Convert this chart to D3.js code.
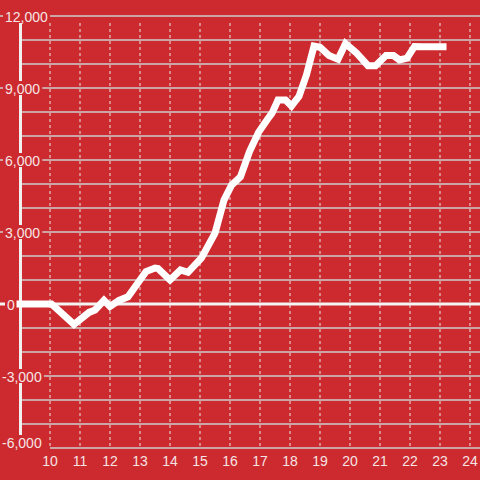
<!DOCTYPE html>
<html><head><meta charset="utf-8">
<script src="https://cdn.jsdelivr.net/npm/d3@7"></script>
<style>
html,body{margin:0;padding:0;background:#cc2a2f;}
svg{display:block;font-family:"Liberation Sans",Arial,sans-serif;}
</style></head>
<body>
<svg id="c" width="480" height="480"></svg>
<script>
// Data (time in decimal hours, value)
const times = [9.0, 10.05, 10.8, 11.3, 11.5, 11.8, 12.0, 12.3, 12.6, 13.0, 13.2, 13.5, 13.6, 14.0, 14.35, 14.6, 15.05, 15.5, 15.8, 16.05, 16.35, 16.65, 16.95, 17.25, 17.4, 17.6, 17.85, 18.05, 18.3, 18.55, 18.8, 19.0, 19.3, 19.6, 19.85, 20.2, 20.6, 20.85, 21.2, 21.45, 21.65, 21.9, 22.15, 22.4, 23.1];
const values = [0, 0, -850, -350, -250, 150, -100, 150, 300, 1000, 1350, 1500, 1480, 1000, 1420, 1320, 1920, 2950, 4330, 4950, 5300, 6350, 7150, 7700, 7950, 8500, 8500, 8250, 8650, 9550, 10750, 10700, 10350, 10200, 10850, 10480, 9930, 9930, 10350, 10350, 10170, 10240, 10730, 10720, 10720];
const xTicks = [10, 11, 12, 13, 14, 15, 16, 17, 18, 19, 20, 21, 22, 23, 24];
const yGrid = [-6000, -5000, -4000, -3000, -2000, -1000, 0, 1000, 2000, 3000, 4000, 5000, 6000, 7000, 8000, 9000, 10000, 11000, 12000];
const yLabels = [-6000, -3000, 0, 3000, 6000, 9000, 12000];

const bg = "#cc2a2f";
const svg = d3.select("#c");
const x = d3.scaleLinear().domain([10, 24]).range([50, 470]);
const y = d3.scaleLinear().domain([-6000, 12000]).range([448, 16]);
const fmt = d3.format(",");

// horizontal grid
svg.append("g").selectAll("line").data(yGrid.filter(v => v !== 0)).join("line")
  .attr("x1", d => d === -6000 ? 50 : (yLabels.includes(d) ? 0 : 22))
  .attr("x2", 480)
  .attr("y1", d => y(d)).attr("y2", d => y(d))
  .attr("stroke", "#cfcfcf").attr("stroke-width", 1.5);

// vertical dashed grid
svg.append("g").selectAll("line").data(xTicks).join("line")
  .attr("x1", d => x(d)).attr("x2", d => x(d))
  .attr("y1", y(12000) + 7).attr("y2", y(-6000))
  .attr("stroke", "#e8e8e8").attr("stroke-width", 1).attr("stroke-dasharray", "3,3");

// vertical axis line
svg.append("line").attr("x1", 20.5).attr("x2", 20.5)
  .attr("y1", y(12000)).attr("y2", y(-6000))
  .attr("stroke", "#f0f0f0").attr("stroke-width", 3);

// zero line
svg.append("line").attr("x1", 0).attr("x2", 480)
  .attr("y1", y(0)).attr("y2", y(0))
  .attr("stroke", "#f4f4f4").attr("stroke-width", 3);

// y labels with background boxes
const yl = svg.append("g");
yLabels.forEach(v => {
  const g = yl.append("g");
  const xs = v < 0 ? 2 : (v === 0 ? 7 : 5);
  const cy = v === -6000 ? y(v) - 6 : y(v);
  const t = g.append("text").attr("x", xs).attr("y", cy + 5.5)
    .attr("font-size", 14).attr("fill", "#f6e4e4").text(fmt(v).replace("−", "-"));
  const b = t.node().getBBox();
  g.insert("rect", "text").attr("x", b.x - 2).attr("y", cy - 7)
    .attr("width", b.width + 4).attr("height", v === -6000 ? 20 : 14).attr("fill", bg);
});

// data line
const line = d3.line().x((d, i) => x(times[i])).y((d, i) => y(values[i]));
svg.append("path").attr("d", line(values))
  .attr("fill", "none").attr("stroke", "#ffffff").attr("stroke-width", 7)
  .attr("stroke-linecap", "square").attr("stroke-linejoin", "miter");

// x labels
svg.append("g").selectAll("text").data(xTicks).join("text")
  .attr("x", d => x(d)).attr("y", 466)
  .attr("text-anchor", "middle").attr("font-size", 14).attr("fill", "#f6e4e4")
  .text(d => d);
</script>
</body></html>
